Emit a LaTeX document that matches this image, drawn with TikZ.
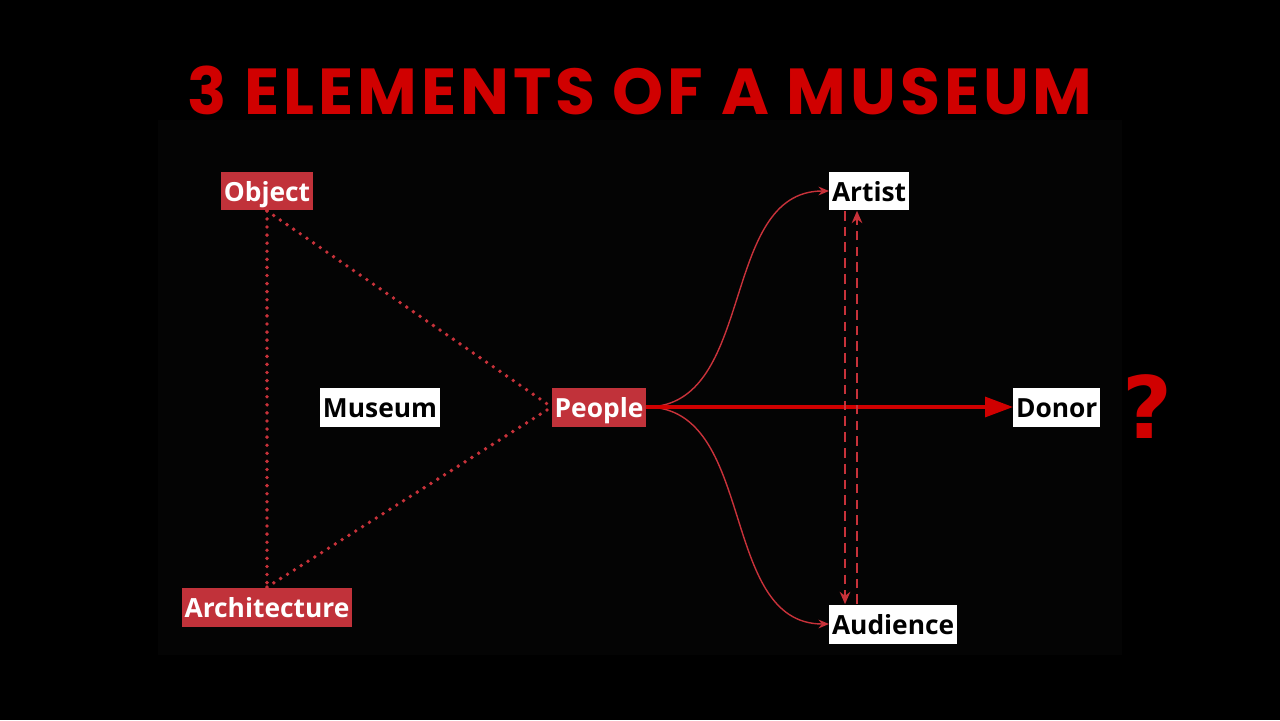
\documentclass[tikz,border=0pt]{standalone}
\usepackage{fontspec}
\setmainfont{Open Sans}
\newfontfamily\titlefont{Poppins}[LetterSpace=6]
\newfontfamily\qfont{DejaVu Sans}
\usetikzlibrary{arrows.meta,positioning,calc}
\definecolor{boxred}{HTML}{C1323A}
\definecolor{linered}{HTML}{C8323A}
\definecolor{titlered}{HTML}{D00000}
\definecolor{panel}{HTML}{040404}

\begin{document}
\begin{tikzpicture}[x={(0.02cm,0)}, y={(0,-0.02cm)},
  redbox/.style={rectangle, fill=boxred, text=white, font=\fontsize{15}{15}\selectfont\bfseries,
    minimum height=0.78cm, inner xsep=1.5pt, inner ysep=0pt, text height=13pt, text depth=0.5pt},
  whitebox/.style={redbox, fill=white, text=black},
  dots/.style={linered, line width=2.2pt, line cap=round, dash pattern=on 0pt off 4.6pt},
  curvearr/.style={-{Stealth[length=6pt,width=5pt]}, linered, line width=0.8pt},
  dasharr/.style={-{Stealth[length=7pt,width=6pt]}, linered, line width=1.2pt, dash pattern=on 5.5pt off 3.5pt},
  mainarr/.style={-{Triangle[length=0.56cm,width=0.4cm]}, titlered, line width=1.8pt}
]
\fill[black] (0,0) rectangle (1280,720);
\fill[panel] (158,120) rectangle (1122,655);

\node[font=\titlefont\fontsize{37}{37}\selectfont\bfseries, text=titlered] (title) at (640,90) {3 ELEMENTS OF A MUSEUM};

% triangle of the museum
\node[redbox] (object) at (267,191) {Object};
\node[redbox] (architecture) at (267,607) {Architecture};
\node[whitebox] (museum) at (380,407) {Museum};
\node[redbox] (people) at (599,407) {People};

% people around it
\node[whitebox, anchor=west] (artist) at (829,191) {Artist};
\node[whitebox, anchor=west] (audience) at (829,624) {Audience};
\node[whitebox, anchor=west] (donor) at (1013,407) {Donor};
\node[font=\qfont\fontsize{49}{49}\selectfont\bfseries, text=titlered] (question) at (1147,407) {?};

\draw[dots] (object.south) -- (architecture.north);
\draw[dots] (object.south) -- (people.west);
\draw[dots] (architecture.north) -- (people.west);

\draw[curvearr] (people.east) to[out=0, in=180] (artist.west);
\draw[curvearr] (people.east) to[out=0, in=180] (audience.west);
\draw[mainarr] (people.east) -- (donor.west);

\draw[dasharr] ($(artist.south west)+(16,0)$) -- ($(audience.north west)+(16,0)$);
\draw[dasharr] ($(audience.north west)+(28,0)$) -- ($(artist.south west)+(28,0)$);
\end{tikzpicture}
\end{document}
